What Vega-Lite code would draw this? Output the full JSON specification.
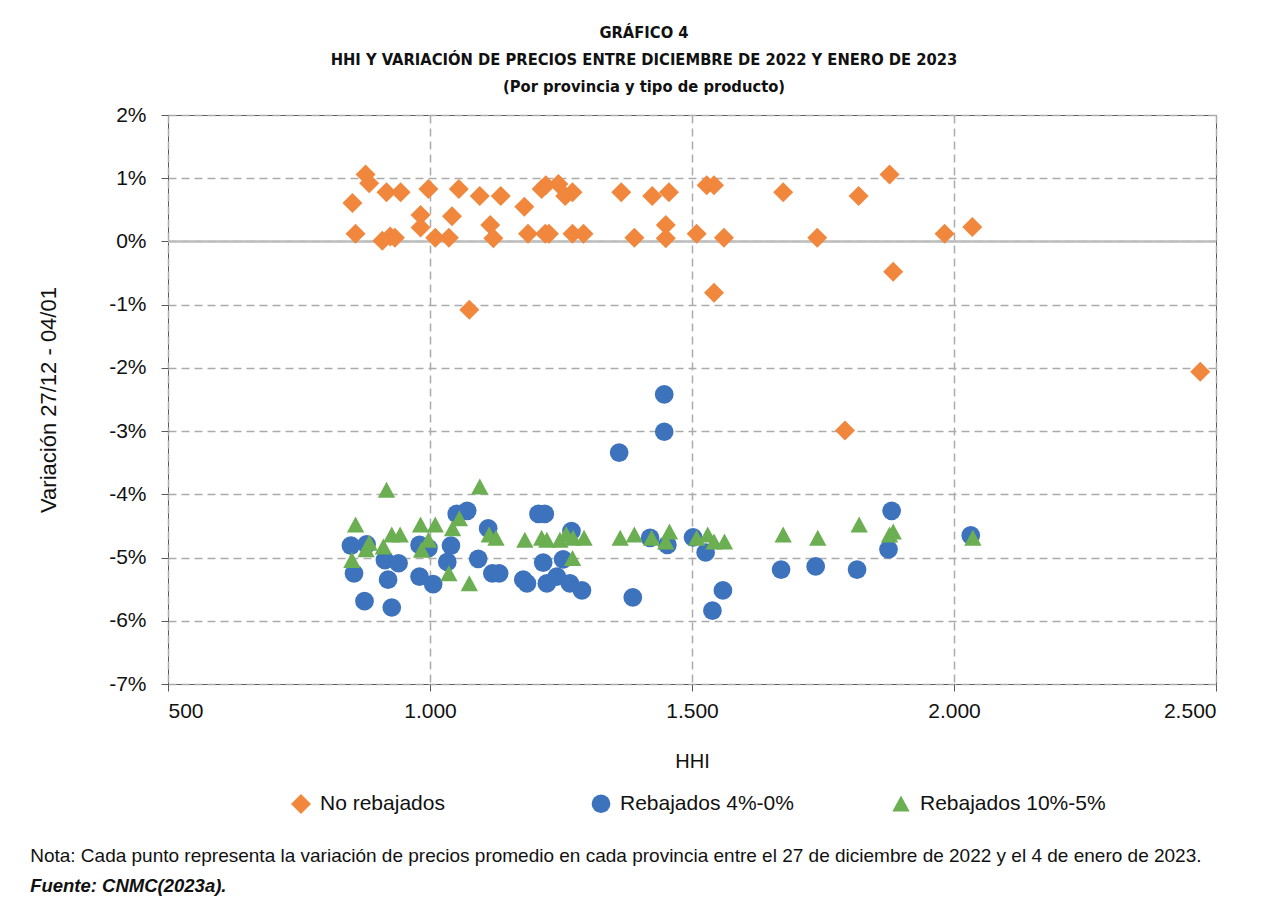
{
  "$schema": "https://vega.github.io/schema/vega-lite/v6.json",
  "background": "white",
  "padding": {"left": 30, "top": 24, "right": 10, "bottom": 5},
  "title": {
    "text": "Nota: Cada punto representa la variación de precios promedio en cada provincia entre el 27 de diciembre de 2022 y el 4 de enero de 2023.",
    "subtitle": "Fuente: CNMC(2023a).",
    "orient": "bottom",
    "anchor": "start",
    "frame": "bounds",
    "dx": -7,
    "font": "Liberation Sans",
    "fontSize": 19,
    "fontWeight": "normal",
    "color": "#111",
    "subtitleFont": "Liberation Sans",
    "subtitleFontSize": 18.5,
    "subtitleFontWeight": "bold",
    "subtitleFontStyle": "italic",
    "subtitleColor": "#111",
    "subtitlePadding": 11,
    "offset": 33
  },
  "vconcat": [
    {
      "width": 1048,
      "height": 569,
      "title": {
        "text": ["GRÁFICO 4", "HHI Y VARIACIÓN DE PRECIOS ENTRE DICIEMBRE DE 2022 Y ENERO DE 2023", "(Por provincia y tipo de producto)"],
        "font": "Liberation Sans Narrow, DejaVu Sans Condensed, sans-serif",
        "fontSize": 16.4,
        "fontWeight": "bold",
        "lineHeight": 27,
        "color": "#111",
        "anchor": "middle",
        "dx": -48,
        "offset": 9
      },
      "layer": [
        {
          "data": {"values": [{"z": 0}]},
          "mark": {"type": "rule", "color": "#bdbdbd", "strokeWidth": 2.5},
          "encoding": {
            "y": {"field": "z", "type": "quantitative", "scale": {"domain": [-7, 2], "nice": false}}
          }
        },
        {
          "data": {"name": "pts"},
          "mark": {"type": "point", "filled": true, "opacity": 1, "strokeWidth": 0},
          "encoding": {
            "x": {
              "field": "hhi", "type": "quantitative",
              "scale": {"domain": [500, 2500], "nice": false, "zero": false},
              "axis": {
                "values": [500, 1000, 1500, 2000, 2500],
                "labelExpr": "replace(format(datum.value, ','), ',', '.')",
                "title": "HHI",
                "titleFontSize": 20,
                "labelPadding": 9,
                "titlePadding": 30
              }
            },
            "y": {
              "field": "var", "type": "quantitative",
              "scale": {"domain": [-7, 2], "nice": false},
              "axis": {
                "values": [-7, -6, -5, -4, -3, -2, -1, 0, 1, 2],
                "labelExpr": "datum.value + '%'",
                "title": "Variación 27/12 - 04/01",
                "titleFontSize": 22,
                "labelPadding": 15,
                "titlePadding": 48
              }
            },
            "color": {
              "field": "serie", "type": "nominal",
              "scale": {"domain": ["No rebajados", "Rebajados 4%-0%", "Rebajados 10%-5%"], "range": ["#F0873C", "#3D72BD", "#6BAF52"]},
              "legend": {
                "title": null,
                "orient": "none",
                "legendX": 122,
                "legendY": 678,
                "direction": "horizontal",
                "columns": 3,
                "gridAlign": "all",
                "columnPadding": 84,
                "labelFont": "Liberation Sans",
                "labelFontSize": 21,
                "labelColor": "#111",
                "labelLimit": 400,
                "symbolSize": 170,
                "labelOffset": 8
              }
            },
            "shape": {
              "field": "serie", "type": "nominal",
              "scale": {"domain": ["No rebajados", "Rebajados 4%-0%", "Rebajados 10%-5%"], "range": ["diamond", "circle", "M-1,0.9L0,-0.95L1,0.9Z"]},
              "legend": {
                "title": null,
                "orient": "none",
                "legendX": 122,
                "legendY": 678,
                "direction": "horizontal",
                "columns": 3,
                "gridAlign": "all",
                "columnPadding": 84,
                "labelFont": "Liberation Sans",
                "labelFontSize": 21,
                "labelColor": "#111",
                "labelLimit": 400,
                "symbolSize": 170,
                "labelOffset": 8
              }
            },
            "size": {
              "field": "serie", "type": "nominal",
              "scale": {"domain": ["No rebajados", "Rebajados 4%-0%", "Rebajados 10%-5%"], "range": [400, 300, 400]},
              "legend": null
            }
          }
        }
      ]
    }
  ],
  "datasets": {
    "pts": [
      {"serie": "No rebajados", "hhi": 877, "var": 1.06},
      {"serie": "No rebajados", "hhi": 884, "var": 0.92},
      {"serie": "No rebajados", "hhi": 852, "var": 0.61},
      {"serie": "No rebajados", "hhi": 858, "var": 0.12},
      {"serie": "No rebajados", "hhi": 917, "var": 0.78},
      {"serie": "No rebajados", "hhi": 944, "var": 0.78},
      {"serie": "No rebajados", "hhi": 997, "var": 0.83},
      {"serie": "No rebajados", "hhi": 1055, "var": 0.83},
      {"serie": "No rebajados", "hhi": 1095, "var": 0.72},
      {"serie": "No rebajados", "hhi": 1135, "var": 0.72},
      {"serie": "No rebajados", "hhi": 1180, "var": 0.55},
      {"serie": "No rebajados", "hhi": 1213, "var": 0.83},
      {"serie": "No rebajados", "hhi": 1221, "var": 0.89},
      {"serie": "No rebajados", "hhi": 1245, "var": 0.91},
      {"serie": "No rebajados", "hhi": 1258, "var": 0.72},
      {"serie": "No rebajados", "hhi": 1272, "var": 0.78},
      {"serie": "No rebajados", "hhi": 1365, "var": 0.78},
      {"serie": "No rebajados", "hhi": 982, "var": 0.42},
      {"serie": "No rebajados", "hhi": 982, "var": 0.22},
      {"serie": "No rebajados", "hhi": 1042, "var": 0.40},
      {"serie": "No rebajados", "hhi": 1115, "var": 0.26},
      {"serie": "No rebajados", "hhi": 1121, "var": 0.05},
      {"serie": "No rebajados", "hhi": 909, "var": 0.01},
      {"serie": "No rebajados", "hhi": 924, "var": 0.08},
      {"serie": "No rebajados", "hhi": 933, "var": 0.06},
      {"serie": "No rebajados", "hhi": 1010, "var": 0.06},
      {"serie": "No rebajados", "hhi": 1036, "var": 0.06},
      {"serie": "No rebajados", "hhi": 1187, "var": 0.12},
      {"serie": "No rebajados", "hhi": 1220, "var": 0.12},
      {"serie": "No rebajados", "hhi": 1227, "var": 0.12},
      {"serie": "No rebajados", "hhi": 1272, "var": 0.12},
      {"serie": "No rebajados", "hhi": 1293, "var": 0.12},
      {"serie": "No rebajados", "hhi": 1390, "var": 0.06},
      {"serie": "No rebajados", "hhi": 1075, "var": -1.08},
      {"serie": "No rebajados", "hhi": 1424, "var": 0.72},
      {"serie": "No rebajados", "hhi": 1456, "var": 0.78},
      {"serie": "No rebajados", "hhi": 1450, "var": 0.26},
      {"serie": "No rebajados", "hhi": 1450, "var": 0.05},
      {"serie": "No rebajados", "hhi": 1509, "var": 0.12},
      {"serie": "No rebajados", "hhi": 1528, "var": 0.89},
      {"serie": "No rebajados", "hhi": 1542, "var": 0.89},
      {"serie": "No rebajados", "hhi": 1561, "var": 0.06},
      {"serie": "No rebajados", "hhi": 1542, "var": -0.81},
      {"serie": "No rebajados", "hhi": 1674, "var": 0.78},
      {"serie": "No rebajados", "hhi": 1739, "var": 0.06},
      {"serie": "No rebajados", "hhi": 1818, "var": 0.72},
      {"serie": "No rebajados", "hhi": 1877, "var": 1.06},
      {"serie": "No rebajados", "hhi": 1884, "var": -0.48},
      {"serie": "No rebajados", "hhi": 1982, "var": 0.12},
      {"serie": "No rebajados", "hhi": 2035, "var": 0.23},
      {"serie": "No rebajados", "hhi": 1792, "var": -2.99},
      {"serie": "No rebajados", "hhi": 2470, "var": -2.06},
      {"serie": "Rebajados 4%-0%", "hhi": 849, "var": -4.81},
      {"serie": "Rebajados 4%-0%", "hhi": 879, "var": -4.79},
      {"serie": "Rebajados 4%-0%", "hhi": 855, "var": -5.25},
      {"serie": "Rebajados 4%-0%", "hhi": 875, "var": -5.69},
      {"serie": "Rebajados 4%-0%", "hhi": 914, "var": -5.04},
      {"serie": "Rebajados 4%-0%", "hhi": 940, "var": -5.09},
      {"serie": "Rebajados 4%-0%", "hhi": 920, "var": -5.35},
      {"serie": "Rebajados 4%-0%", "hhi": 927, "var": -5.79},
      {"serie": "Rebajados 4%-0%", "hhi": 980, "var": -4.80},
      {"serie": "Rebajados 4%-0%", "hhi": 997, "var": -4.85},
      {"serie": "Rebajados 4%-0%", "hhi": 980, "var": -5.30},
      {"serie": "Rebajados 4%-0%", "hhi": 1006, "var": -5.42},
      {"serie": "Rebajados 4%-0%", "hhi": 1033, "var": -5.07},
      {"serie": "Rebajados 4%-0%", "hhi": 1040, "var": -4.81},
      {"serie": "Rebajados 4%-0%", "hhi": 1051, "var": -4.31},
      {"serie": "Rebajados 4%-0%", "hhi": 1071, "var": -4.26},
      {"serie": "Rebajados 4%-0%", "hhi": 1111, "var": -4.54},
      {"serie": "Rebajados 4%-0%", "hhi": 1092, "var": -5.02},
      {"serie": "Rebajados 4%-0%", "hhi": 1119, "var": -5.25},
      {"serie": "Rebajados 4%-0%", "hhi": 1132, "var": -5.25},
      {"serie": "Rebajados 4%-0%", "hhi": 1207, "var": -4.31},
      {"serie": "Rebajados 4%-0%", "hhi": 1219, "var": -4.31},
      {"serie": "Rebajados 4%-0%", "hhi": 1270, "var": -4.58},
      {"serie": "Rebajados 4%-0%", "hhi": 1216, "var": -5.08},
      {"serie": "Rebajados 4%-0%", "hhi": 1254, "var": -5.03},
      {"serie": "Rebajados 4%-0%", "hhi": 1178, "var": -5.35},
      {"serie": "Rebajados 4%-0%", "hhi": 1185, "var": -5.41},
      {"serie": "Rebajados 4%-0%", "hhi": 1223, "var": -5.41},
      {"serie": "Rebajados 4%-0%", "hhi": 1242, "var": -5.30},
      {"serie": "Rebajados 4%-0%", "hhi": 1267, "var": -5.41},
      {"serie": "Rebajados 4%-0%", "hhi": 1290, "var": -5.52},
      {"serie": "Rebajados 4%-0%", "hhi": 1387, "var": -5.63},
      {"serie": "Rebajados 4%-0%", "hhi": 1420, "var": -4.69},
      {"serie": "Rebajados 4%-0%", "hhi": 1447, "var": -2.42},
      {"serie": "Rebajados 4%-0%", "hhi": 1447, "var": -3.01},
      {"serie": "Rebajados 4%-0%", "hhi": 1453, "var": -4.80},
      {"serie": "Rebajados 4%-0%", "hhi": 1502, "var": -4.68},
      {"serie": "Rebajados 4%-0%", "hhi": 1526, "var": -4.92},
      {"serie": "Rebajados 4%-0%", "hhi": 1559, "var": -5.52},
      {"serie": "Rebajados 4%-0%", "hhi": 1539, "var": -5.84},
      {"serie": "Rebajados 4%-0%", "hhi": 1670, "var": -5.19},
      {"serie": "Rebajados 4%-0%", "hhi": 1736, "var": -5.14},
      {"serie": "Rebajados 4%-0%", "hhi": 1815, "var": -5.19},
      {"serie": "Rebajados 4%-0%", "hhi": 1881, "var": -4.26},
      {"serie": "Rebajados 4%-0%", "hhi": 1875, "var": -4.87},
      {"serie": "Rebajados 4%-0%", "hhi": 2032, "var": -4.65},
      {"serie": "Rebajados 4%-0%", "hhi": 1361, "var": -3.34},
      {"serie": "Rebajados 10%-5%", "hhi": 917, "var": -3.93},
      {"serie": "Rebajados 10%-5%", "hhi": 1095, "var": -3.88},
      {"serie": "Rebajados 10%-5%", "hhi": 858, "var": -4.48},
      {"serie": "Rebajados 10%-5%", "hhi": 851, "var": -5.04},
      {"serie": "Rebajados 10%-5%", "hhi": 884, "var": -4.77},
      {"serie": "Rebajados 10%-5%", "hhi": 878, "var": -4.87},
      {"serie": "Rebajados 10%-5%", "hhi": 911, "var": -4.83},
      {"serie": "Rebajados 10%-5%", "hhi": 927, "var": -4.64},
      {"serie": "Rebajados 10%-5%", "hhi": 943, "var": -4.64},
      {"serie": "Rebajados 10%-5%", "hhi": 982, "var": -4.48},
      {"serie": "Rebajados 10%-5%", "hhi": 1010, "var": -4.48},
      {"serie": "Rebajados 10%-5%", "hhi": 997, "var": -4.72},
      {"serie": "Rebajados 10%-5%", "hhi": 984, "var": -4.88},
      {"serie": "Rebajados 10%-5%", "hhi": 1043, "var": -4.54},
      {"serie": "Rebajados 10%-5%", "hhi": 1056, "var": -4.38},
      {"serie": "Rebajados 10%-5%", "hhi": 1036, "var": -5.25},
      {"serie": "Rebajados 10%-5%", "hhi": 1075, "var": -5.41},
      {"serie": "Rebajados 10%-5%", "hhi": 1113, "var": -4.64},
      {"serie": "Rebajados 10%-5%", "hhi": 1126, "var": -4.69},
      {"serie": "Rebajados 10%-5%", "hhi": 1181, "var": -4.72},
      {"serie": "Rebajados 10%-5%", "hhi": 1213, "var": -4.69},
      {"serie": "Rebajados 10%-5%", "hhi": 1223, "var": -4.72},
      {"serie": "Rebajados 10%-5%", "hhi": 1248, "var": -4.72},
      {"serie": "Rebajados 10%-5%", "hhi": 1260, "var": -4.63},
      {"serie": "Rebajados 10%-5%", "hhi": 1273, "var": -4.69},
      {"serie": "Rebajados 10%-5%", "hhi": 1294, "var": -4.69},
      {"serie": "Rebajados 10%-5%", "hhi": 1272, "var": -5.01},
      {"serie": "Rebajados 10%-5%", "hhi": 1363, "var": -4.69},
      {"serie": "Rebajados 10%-5%", "hhi": 1390, "var": -4.64},
      {"serie": "Rebajados 10%-5%", "hhi": 1423, "var": -4.69},
      {"serie": "Rebajados 10%-5%", "hhi": 1457, "var": -4.59},
      {"serie": "Rebajados 10%-5%", "hhi": 1450, "var": -4.75},
      {"serie": "Rebajados 10%-5%", "hhi": 1509, "var": -4.69},
      {"serie": "Rebajados 10%-5%", "hhi": 1530, "var": -4.64},
      {"serie": "Rebajados 10%-5%", "hhi": 1542, "var": -4.75},
      {"serie": "Rebajados 10%-5%", "hhi": 1562, "var": -4.75},
      {"serie": "Rebajados 10%-5%", "hhi": 1674, "var": -4.64},
      {"serie": "Rebajados 10%-5%", "hhi": 1740, "var": -4.69},
      {"serie": "Rebajados 10%-5%", "hhi": 1819, "var": -4.48},
      {"serie": "Rebajados 10%-5%", "hhi": 1884, "var": -4.59},
      {"serie": "Rebajados 10%-5%", "hhi": 1877, "var": -4.64},
      {"serie": "Rebajados 10%-5%", "hhi": 2036, "var": -4.69}
    ]
  },
  "config": {
    "view": {"stroke": "#595959", "strokeWidth": 1},
    "axis": {
      "labelFont": "Liberation Sans",
      "labelFontSize": 21,
      "labelColor": "#111",
      "titleFont": "Liberation Sans",
      "titleFontSize": 20,
      "titleFontWeight": "normal",
      "titleColor": "#111",
      "gridColor": "#ababab",
      "gridDash": [8, 5],
      "gridWidth": 1.5,
      "domain": false,
      "tickColor": "#595959",
      "tickSize": 7
    }
  }
}
